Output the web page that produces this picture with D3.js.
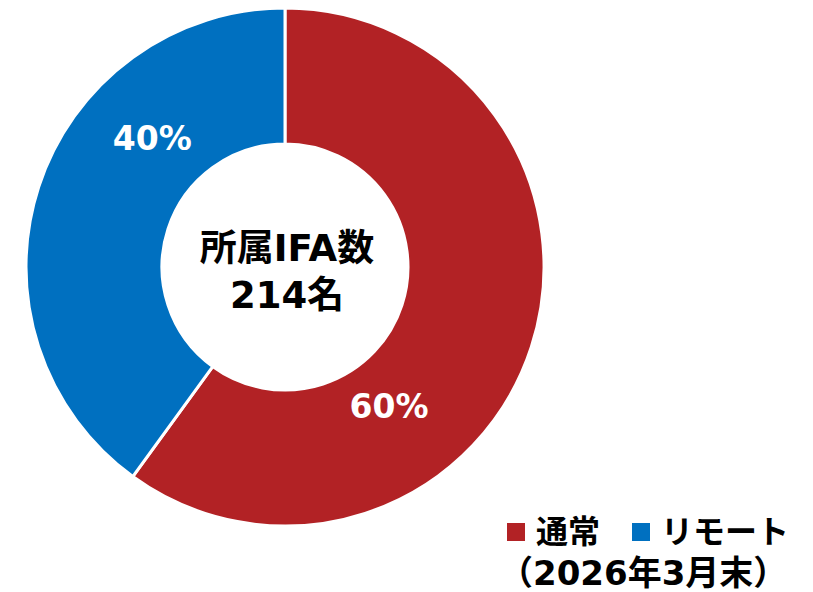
<!DOCTYPE html>
<html><head><meta charset="utf-8">
<script src="https://cdn.jsdelivr.net/npm/d3@7"></script>
<style>body{margin:0;background:#fff}svg{display:block}</style>
</head><body>
<script>
const categories = ["通常", "リモート"];
const values = [60, 40];
const labels = ["60%", "40%"];
const colors = ["#B22225", "#0070C0"];
const centerLines = ["所属IFA数", "214名"];
const noteText = "（2026年3月末）";

const W = 813, H = 592;
const cx = 285, cy = 267, rOuter = 259, rInner = 123;
const font = "'DejaVu Sans','Noto Sans CJK JP',sans-serif";

const svg = d3.select("body").append("svg").attr("width", W).attr("height", H);
const g = svg.append("g").attr("transform", `translate(${cx},${cy})`);

const pie = d3.pie().value(d => d).sort(null);
const arcs = pie(values);
const arc = d3.arc().innerRadius(rInner).outerRadius(rOuter);

g.selectAll("path").data(arcs).join("path")
  .attr("d", arc)
  .attr("fill", (d, i) => colors[i])
  .attr("stroke", "#fff").attr("stroke-width", 3);

// labels placed at ~2/3 along each slice
const labelR = 180;
const la = d => d.startAngle + 0.67 * (d.endAngle - d.startAngle);
g.selectAll("text.lbl").data(arcs).join("text")
  .attr("class", "lbl")
  .attr("x", d => labelR * Math.sin(la(d)))
  .attr("y", d => -labelR * Math.cos(la(d)) - 7)
  .attr("text-anchor", "middle").attr("dominant-baseline", "central")
  .attr("fill", "#fff").attr("font-family", font).attr("font-weight", "bold")
  .attr("font-size", 33)
  .text((d, i) => labels[i]);

g.selectAll("text.ctr").data(centerLines).join("text")
  .attr("class", "ctr")
  .attr("x", 2).attr("y", (d, i) => -19 + i * 47)
  .attr("text-anchor", "middle").attr("dominant-baseline", "central")
  .attr("fill", "#000").attr("font-family", font).attr("font-weight", "bold")
  .attr("font-size", 37)
  .text(d => d);

// legend
const leg = svg.append("g");
const legX = [507, 632];
categories.forEach((c, i) => {
  leg.append("rect").attr("x", legX[i]).attr("y", 523).attr("width", 18).attr("height", 18).attr("fill", colors[i]);
  leg.append("text").attr("x", legX[i] + 29).attr("y", 532)
    .attr("dominant-baseline", "central")
    .attr("font-family", font).attr("font-weight", "bold").attr("font-size", 32)
    .attr("fill", "#000").text(c);
});
svg.append("text").attr("x", 499).attr("y", 573)
  .attr("dominant-baseline", "central")
  .attr("font-family", font).attr("font-weight", "bold").attr("font-size", 34)
  .attr("fill", "#000").text(noteText);
</script>
</body></html>
